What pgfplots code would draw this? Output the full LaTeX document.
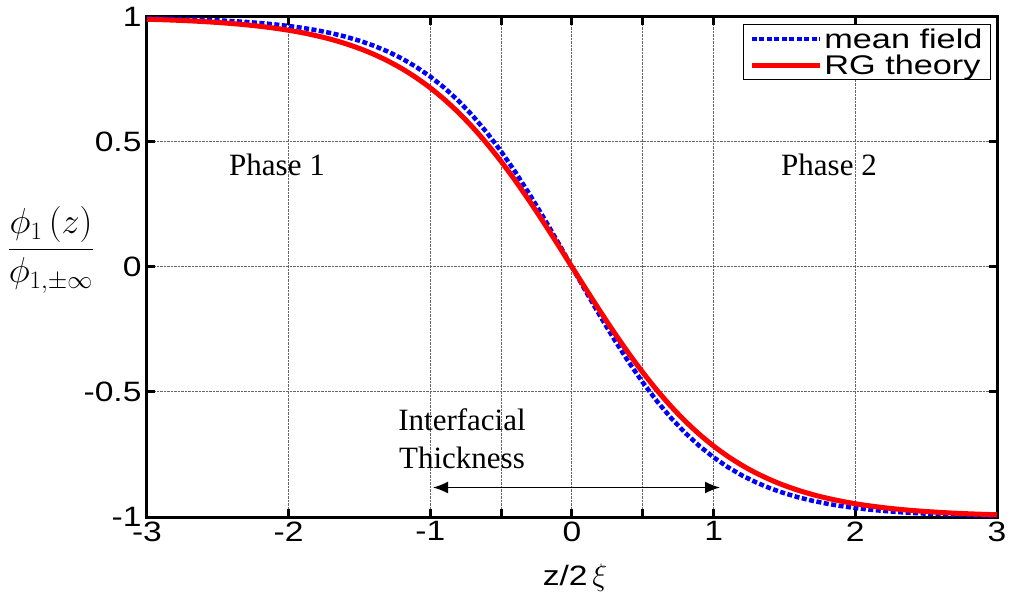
\documentclass[border=0pt]{standalone}
\usepackage{pgfplots}
\pgfplotsset{compat=1.18}
\usepackage{fontspec}
\setmainfont{Liberation Serif}
\newfontfamily\arial{Liberation Sans}
\newcommand\sx[1]{\scalebox{1.2}[1]{#1}}
\newcommand\sxl[1]{\scalebox{1.27}[1]{#1}}
\usetikzlibrary{arrows.meta}
\pgfplotsset{legend image code/.code={\draw[#1] (0pt,0pt) -- (68pt,0pt);}}
\begin{document}
\begin{tikzpicture}
\path[use as bounding box] (-147pt,-75pt) rectangle (863pt,517pt);
\begin{axis}[
  at={(0pt,0pt)}, anchor=south west,
  scale only axis, width=850pt, height=500pt,
  xmin=-3, xmax=3, ymin=-1, ymax=1,
  xtick={-3,-2,-1,-0.5,0,0.5,1,2,3},
  xticklabels={\sx{-3},\sx{-2},\sx{-1},,\sx{0},,\sx{1},\sx{2},\sx{3}},
  ytick={-1,-0.5,0,0.5,1},
  yticklabels={\sx{-1},\sx{-0.5},\sx{0},\sx{0.5},\sx{1}},
  xtick pos=both, ytick pos=both, ticklabel pos=left,
  tick align=inside, major tick length=8pt,
  tick style={black, line width=3pt},
  axis line style={line width=3pt},
  grid=major, grid style={densely dotted, gray!80!black, line width=1pt},
  ticklabel style={font=\arial\fontsize{28}{32}\selectfont},
  xticklabel style={yshift=-1pt},
  yticklabel style={xshift=-2pt},
  legend style={at={(rel axis cs:0.993,0.986)}, anchor=north east,
    draw=black, line width=1pt,
    inner xsep=6pt, inner ysep=2pt, row sep=1pt,
    nodes={inner sep=2pt}},
  legend cell align=left,
]
\addplot[blue, line width=4.5pt, dash pattern=on 5pt off 2.5pt]
  coordinates {
(-3.0,0.99505) (-2.9,0.99396) (-2.8,0.99263) (-2.7,0.99101) (-2.6,0.98903)
(-2.5,0.98661) (-2.4,0.98367) (-2.3,0.98010) (-2.2,0.97574) (-2.1,0.97045)
(-2.0,0.96403) (-1.9,0.95624) (-1.8,0.94681) (-1.7,0.93541) (-1.6,0.92167)
(-1.5,0.90515) (-1.4,0.88535) (-1.3,0.86172) (-1.2,0.83365) (-1.1,0.80050)
(-1.0,0.76159) (-0.9,0.71630) (-0.8,0.66404) (-0.7,0.60437) (-0.6,0.53705)
(-0.5,0.46212) (-0.4,0.37995) (-0.3,0.29131) (-0.2,0.19738) (-0.1,0.09967)
(0.0,0.0)
(0.1,-0.09967) (0.2,-0.19738) (0.3,-0.29131) (0.4,-0.37995) (0.5,-0.46212)
(0.6,-0.53705) (0.7,-0.60437) (0.8,-0.66404) (0.9,-0.71630) (1.0,-0.76159)
(1.1,-0.80050) (1.2,-0.83365) (1.3,-0.86172) (1.4,-0.88535) (1.5,-0.90515)
(1.6,-0.92167) (1.7,-0.93541) (1.8,-0.94681) (1.9,-0.95624) (2.0,-0.96403)
(2.1,-0.97045) (2.2,-0.97574) (2.3,-0.98010) (2.4,-0.98367) (2.5,-0.98661)
(2.6,-0.98903) (2.7,-0.99101) (2.8,-0.99263) (2.9,-0.99396) (3.0,-0.99505)
};
\addlegendentry{\arial\fontsize{27}{31}\selectfont\sxl{mean field}}
\addplot[red, line width=5pt, smooth]
  coordinates {
(-3.0,0.99101) (-2.9,0.98924) (-2.8,0.98714) (-2.7,0.98462) (-2.6,0.98161)
(-2.5,0.97803) (-2.4,0.97375) (-2.3,0.96865) (-2.2,0.96259) (-2.1,0.95537)
(-2.0,0.94681) (-1.9,0.93665) (-1.8,0.92463) (-1.7,0.91043) (-1.6,0.89370)
(-1.5,0.87405) (-1.4,0.85107) (-1.3,0.82427) (-1.2,0.79320) (-1.1,0.75736)
(-1.0,0.71630) (-0.9,0.66959) (-0.8,0.61691) (-0.7,0.55805) (-0.6,0.49298)
(-0.5,0.42190) (-0.4,0.34521) (-0.3,0.26362) (-0.2,0.17808) (-0.1,0.08976)
(0.0,0.0)
(0.1,-0.08976) (0.2,-0.17808) (0.3,-0.26362) (0.4,-0.34521) (0.5,-0.42190)
(0.6,-0.49298) (0.7,-0.55805) (0.8,-0.61691) (0.9,-0.66959) (1.0,-0.71630)
(1.1,-0.75736) (1.2,-0.79320) (1.3,-0.82427) (1.4,-0.85107) (1.5,-0.87405)
(1.6,-0.89370) (1.7,-0.91043) (1.8,-0.92463) (1.9,-0.93665) (2.0,-0.94681)
(2.1,-0.95537) (2.2,-0.96259) (2.3,-0.96865) (2.4,-0.97375) (2.5,-0.97803)
(2.6,-0.98161) (2.7,-0.98462) (2.8,-0.98714) (2.9,-0.98924) (3.0,-0.99101)
};
\addlegendentry{\arial\fontsize{27}{31}\selectfont\sxl{RG theory}}
\end{axis}
\node[font=\fontsize{31}{36}\selectfont] at (277pt-147pt,352pt) {Phase 1};
\node[font=\fontsize{31}{36}\selectfont] at (829pt-147pt,352pt) {Phase 2};
\node[font=\fontsize{31}{38}\selectfont, align=center] at (462pt-147pt,78pt) {Interfacial\\Thickness};
\draw[{Latex[length=15pt,width=12pt]}-{Latex[length=15pt,width=12pt]}, line width=1.5pt]
  (433pt-147pt,29.5pt) -- (720pt-147pt,29.5pt);
\node[anchor=base] at (428pt,-68pt)
  {\arial\fontsize{28}{32}\selectfont \sx{z/2}\,\scalebox{1.25}{$\xi$}};
\node at (-96pt,267pt)
  {\scalebox{1.45}{\fontsize{24}{28}\selectfont $\displaystyle\frac{\phi_1\left(z\right)}{\phi_{1,\pm\infty}}$}};
\end{tikzpicture}
\end{document}
